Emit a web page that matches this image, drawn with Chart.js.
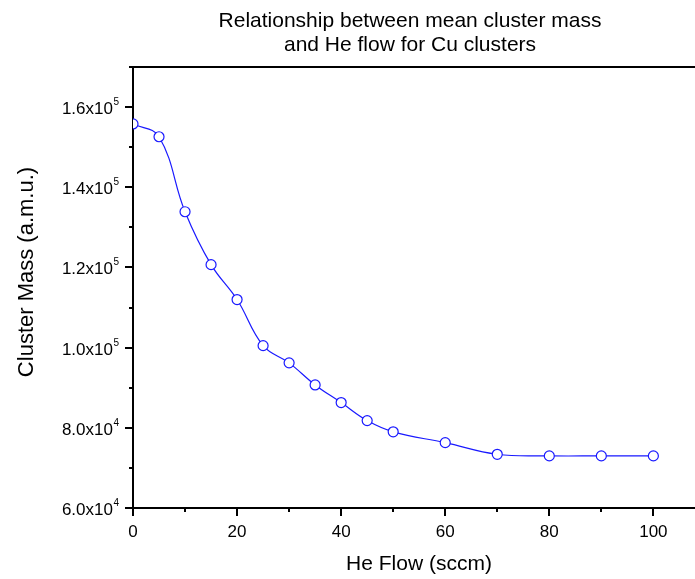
<!DOCTYPE html>
<html>
<head>
<meta charset="utf-8">
<script src="https://cdn.jsdelivr.net/npm/chart.js@4/dist/chart.umd.min.js"></script>
<style>
  html, body { margin: 0; padding: 0; background: #fff; }
  #wrap { width: 695px; height: 579px; }
</style>
</head>
<body>
<div id="wrap"><canvas id="chart" width="695" height="579"></canvas></div>
<script>
// data
const heFlow = [0, 5, 10, 15, 20, 25, 30, 35, 40, 45, 50, 60, 70, 80, 90, 100];
const clusterMass = [155800, 152600, 133900, 120700, 112000, 100500, 96200, 90700,
  86300, 81800, 79000, 76300, 73400, 73000, 73000, 73000];

const xTicks = [0, 20, 40, 60, 80, 100];
const yTickMantissa = ['6.0', '8.0', '1.0', '1.2', '1.4', '1.6'];
const yTickExp = ['4', '4', '5', '5', '5', '5'];
const yTickValues = [60000, 80000, 100000, 120000, 140000, 160000];

const titleLines = ['Relationship between mean cluster mass', 'and He flow for Cu clusters'];
const xTitle = 'He Flow (sccm)';
const yTitle = 'Cluster Mass (a.m.u.)';

const FONT = 'Arial, "Liberation Sans", sans-serif';
const BLUE = 'rgb(25,25,255)';

// ticks, labels with superscripts, top frame and titles
const axesPlugin = {
  id: 'axesPlugin',
  afterDraw(chart) {
    const { ctx, chartArea: a } = chart;
    const x = chart.scales.x, y = chart.scales.y;
    ctx.save();
    ctx.strokeStyle = '#000';
    ctx.lineWidth = 2;

    // top frame line
    ctx.beginPath();
    ctx.moveTo(a.left - 1, a.top);
    ctx.lineTo(a.right, a.top);
    ctx.stroke();

    // x ticks
    for (let v = 0; v <= 100; v += 10) {
      const px = Math.round(x.getPixelForValue(v));
      const len = xTicks.includes(v) ? 8 : 4;
      ctx.beginPath();
      ctx.moveTo(px, a.bottom);
      ctx.lineTo(px, a.bottom + len);
      ctx.stroke();
    }
    // y ticks
    for (let v = 60000; v <= 170000; v += 10000) {
      const py = Math.round(y.getPixelForValue(v));
      const len = yTickValues.includes(v) ? 8 : 4;
      ctx.beginPath();
      ctx.moveTo(a.left, py);
      ctx.lineTo(a.left - len, py);
      ctx.stroke();
    }

    // y labels like 1.6x10^5
    ctx.fillStyle = '#000';
    ctx.textAlign = 'right';
    ctx.textBaseline = 'alphabetic';
    const right = a.left - 14;
    yTickValues.forEach((v, i) => {
      const py = y.getPixelForValue(v);
      ctx.font = '10px ' + FONT;
      const supW = ctx.measureText(yTickExp[i]).width;
      ctx.fillText(yTickExp[i], right, py - 2);
      ctx.font = '17px ' + FONT;
      ctx.fillText(yTickMantissa[i] + 'x10', right - supW - 0.5, py + 7);
    });

    // titles
    ctx.font = '21px ' + FONT;
    ctx.textAlign = 'center';
    ctx.fillText(titleLines[0], 410, 27);
    ctx.fillText(titleLines[1], 410, 51);
    ctx.fillText(xTitle, 419, 570);

    ctx.font = '22px ' + FONT;
    ctx.translate(33, 272);
    ctx.rotate(-Math.PI / 2);
    ctx.fillText(yTitle, 0, 0);
    ctx.restore();
  }
};

new Chart(document.getElementById('chart'), {
  type: 'line',
  data: {
    datasets: [{
      data: heFlow.map((f, i) => ({ x: f, y: clusterMass[i] })),
      borderColor: BLUE,
      borderWidth: 1.2,
      tension: 0.4,
      pointRadius: 5,
      pointBorderWidth: 1.2,
      pointBackgroundColor: '#fff',
      pointBorderColor: BLUE
    }]
  },
  options: {
    responsive: false,
    animation: false,
    layout: { autoPadding: false, padding: { top: 67, right: 0, bottom: 0, left: 0 } },
    plugins: { legend: { display: false }, tooltip: { enabled: false } },
    scales: {
      x: {
        type: 'linear',
        min: 0,
        max: 108,
        afterFit: s => { s.height = 71; s.paddingLeft = 0; s.paddingRight = 0; },
        grid: { display: true, drawOnChartArea: false, drawTicks: false },
        border: { display: true, color: '#000', width: 2 },
        ticks: {
          stepSize: 10,
          autoSkip: false,
          includeBounds: false,
          maxRotation: 0,
          padding: 14,
          color: '#000',
          font: { size: 17, family: FONT },
          callback: v => (xTicks.includes(v) ? String(v) : '')
        }
      },
      y: {
        min: 60000,
        max: 170000,
        afterFit: s => { s.width = 133; s.paddingTop = 0; s.paddingBottom = 0; },
        grid: { display: true, drawOnChartArea: false, drawTicks: false },
        border: { display: true, color: '#000', width: 2 },
        ticks: { display: false, stepSize: 10000 }
      }
    }
  },
  plugins: [axesPlugin]
});
</script>
</body>
</html>
